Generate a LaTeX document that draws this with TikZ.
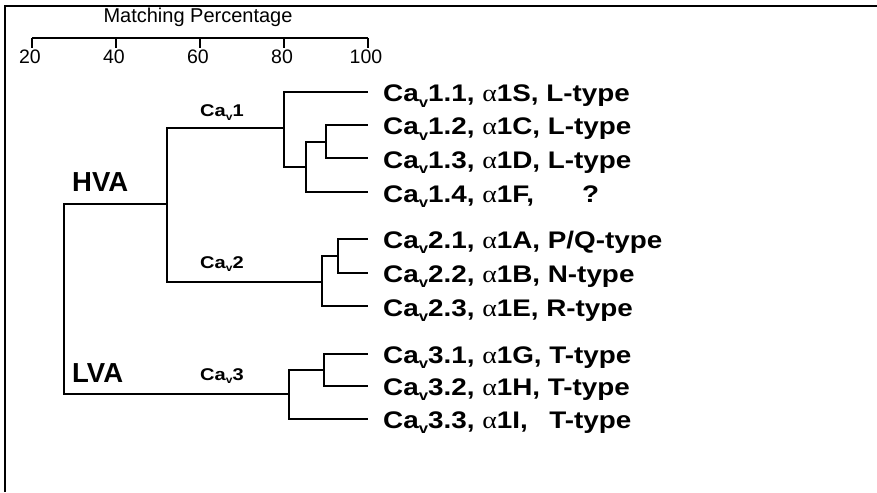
\documentclass[tikz,border=0pt]{standalone}
\usepackage{fontspec}
\setmainfont{Liberation Sans}
\newfontfamily\widesans[FakeStretch=1.16]{Liberation Sans}
\newfontfamily\famsans[FakeStretch=1.18]{Liberation Sans}
\newfontfamily\greekserif[FakeStretch=1.16]{Liberation Serif}
\newcommand{\al}{{\greekserif\mdseries α}}
\makeatletter
\newcommand{\cav}{Ca\raisebox{-0.22em}{\fontsize{\fpeval{0.6*\f@size}}{0}\selectfont v}}
\makeatother

\tikzset{
  branch/.style={line width=2pt, line join=miter},
  leaf/.style={anchor=base west, inner sep=0pt, font=\widesans\fontsize{24}{24}\selectfont\bfseries},
  family/.style={anchor=base west, inner sep=0pt, font=\famsans\fontsize{17}{17}\selectfont\bfseries},
  group/.style={anchor=base west, inner sep=0pt, font=\fontsize{27.5}{27.5}\selectfont\bfseries},
  ticklabel/.style={anchor=north, inner xsep=0pt, inner ysep=2pt, font=\fontsize{19.5}{19.5}\selectfont},
}

\begin{document}
\begin{tikzpicture}[x=1pt, y=-1pt]
\useasboundingbox (0,0) rectangle (877,492);

% frame
\draw[line width=2pt] (5,492) -- (5,6) -- (877,6);

% percentage scale
\node[anchor=base, inner sep=0pt, font=\fontsize{20}{20}\selectfont] (title) at (198,23) {Matching Percentage};
\foreach \v/\x in {20/32, 40/116, 60/200, 80/284, 100/368} {
  \coordinate (a\v) at (\x,38);
  \node[ticklabel] (l\v) at (\x-2,48) {\v};
  \draw[line width=1.6pt] (a\v) -- (\x,48);
}
\draw[line width=1.6pt] (a20) -- (a100);

% leaf tips
\coordinate (t11) at (368,92);
\coordinate (t12) at (368,125);
\coordinate (t13) at (368,158);
\coordinate (t14) at (368,192);
\coordinate (t21) at (368,239);
\coordinate (t22) at (368,273);
\coordinate (t23) at (368,306);
\coordinate (t31) at (368,354);
\coordinate (t32) at (368,386);
\coordinate (t33) at (368,419);

% internal joins
\coordinate (n1213) at (326,142);
\coordinate (n124) at (306,167);
\coordinate (cav1) at (284,128);
\coordinate (cav2sub) at (338,256);
\coordinate (cav2) at (322,282);
\coordinate (cav3sub) at (324,370);
\coordinate (cav3) at (289,394);
\coordinate (hva) at (167,204);
\coordinate (root) at (64,299);

% dendrogram
\draw[branch] (root) |- (hva);
\draw[branch] (root) |- (cav3);
\draw[branch] (hva) |- (cav1);
\draw[branch] (hva) |- (cav2);
\draw[branch] (cav1) |- (t11);
\draw[branch] (cav1) |- (n124);
\draw[branch] (n124) |- (n1213);
\draw[branch] (n124) |- (t14);
\draw[branch] (n1213) |- (t12);
\draw[branch] (n1213) |- (t13);
\draw[branch] (cav2) |- (cav2sub);
\draw[branch] (cav2) |- (t23);
\draw[branch] (cav2sub) |- (t21);
\draw[branch] (cav2sub) |- (t22);
\draw[branch] (cav3) |- (cav3sub);
\draw[branch] (cav3) |- (t33);
\draw[branch] (cav3sub) |- (t31);
\draw[branch] (cav3sub) |- (t32);

% group and family labels
\node[group] (HVA) at (72,191) {HVA};
\node[group] (LVA) at (72,382) {LVA};
\node[family] (f1) at (200,117) {\cav1};
\node[family] (f2) at (200,268) {\cav2};
\node[family] (f3) at (200,380) {\cav3};

% channel labels
\node[leaf] (s11) at (383,102) {\cav1.1, \al1S, L-type};
\node[leaf] (s12) at (383,135) {\cav1.2, \al1C, L-type};
\node[leaf] (s13) at (383,168) {\cav1.3, \al1D, L-type};
\node[leaf] (s14) at (383,202) {\rlap{\cav1.4, \al1F,}\hspace{199pt}?};
\node[leaf] (s21) at (383,248) {\cav2.1, \al1A, P/Q-type};
\node[leaf] (s22) at (383,282) {\cav2.2, \al1B, N-type};
\node[leaf] (s23) at (383,316) {\cav2.3, \al1E, R-type};
\node[leaf] (s31) at (383,363) {\cav3.1, \al1G, T-type};
\node[leaf] (s32) at (383,395.5) {\cav3.2, \al1H, T-type};
\node[leaf] (s33) at (383,428) {\rlap{\cav3.3, \al1I,}\hphantom{\cav3.1, \al1G, }T-type};
\end{tikzpicture}
\end{document}
